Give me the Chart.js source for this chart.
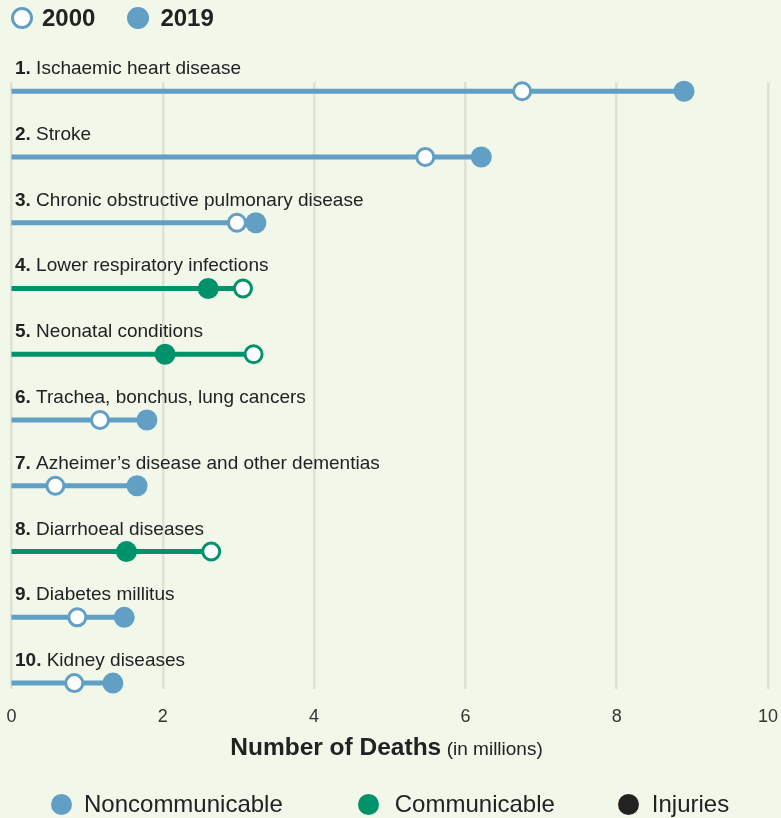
<!DOCTYPE html>
<html>
<head>
<meta charset="utf-8">
<script src="https://cdn.jsdelivr.net/npm/chart.js@4"></script>
<style>
  html, body { margin: 0; padding: 0; background: #f1f7e9; }
  body { font-family: "Liberation Sans", Arial, sans-serif; color: #222; }
  #wrap { position: relative; width: 781px; height: 818px; overflow: hidden; }
  #chart { position: absolute; left: 0; top: 0; }
  .leg { position: absolute; display: flex; align-items: center; white-space: nowrap; }
  .dot { display: inline-block; box-sizing: border-box; border-radius: 50%; }
  #topLegend { left: 11px; top: 4px; height: 28px; font-weight: bold; font-size: 24px; }
  #axisTitle { position: absolute; left: -4px; width: 781px; top: 733px; text-align: center; white-space: nowrap; }
  #axisTitle b { font-size: 24.5px; }
  #axisTitle span { font-size: 19px; margin-left: 1px; }
  #bottomLegend { left: 51px; top: 790px; height: 28px; font-size: 24px; }
</style>
</head>
<body>
<div id="wrap">
  <canvas id="chart" width="781" height="818"></canvas>
  <div id="topLegend" class="leg">
    <span class="dot" style="width:22px;height:22px;border:3px solid #619fc4;background:#fff;"></span>
    <span style="margin-left:9px;">2000</span>
    <span class="dot" style="width:22px;height:22px;background:#619fc4;margin-left:32px;"></span>
    <span style="margin-left:11px;">2019</span>
  </div>
  <div id="axisTitle"><b>Number of Deaths</b> <span>(in millions)</span></div>
  <div id="bottomLegend" class="leg">
    <span class="dot" style="width:21px;height:21px;background:#619fc4;"></span>
    <span style="margin-left:12px;">Noncommunicable</span>
    <span class="dot" style="width:21px;height:21px;background:#00936b;margin-left:75px;"></span>
    <span style="margin-left:16px;">Communicable</span>
    <span class="dot" style="width:21px;height:21px;background:#222;margin-left:63px;"></span>
    <span style="margin-left:13px;">Injuries</span>
  </div>
</div>
<script>
(function () {
  "use strict";

  // causes of death, top ten, in millions
  const causes = [
    "Ischaemic heart disease",
    "Stroke",
    "Chronic obstructive pulmonary disease",
    "Lower respiratory infections",
    "Neonatal conditions",
    "Trachea, bonchus, lung cancers",
    "Azheimer\u2019s disease and other dementias",
    "Diarrhoeal diseases",
    "Diabetes millitus",
    "Kidney diseases"
  ];
  const groups = ["non", "non", "non", "com", "com", "non", "non", "com", "non", "non"];
  const deaths2000 = [6.75, 5.47, 2.98, 3.06, 3.20, 1.17, 0.58, 2.64, 0.87, 0.83];
  const deaths2019 = [8.89, 6.21, 3.23, 2.60, 2.03, 1.79, 1.66, 1.52, 1.49, 1.34];
  const xTicks = [0, 2, 4, 6, 8, 10];

  const groupColor = { non: "#619fc4", com: "#00936b", inj: "#222222" };
  const FONT = '"Liberation Sans", Arial, sans-serif';

  const lineSets = causes.map((c, i) => ({
    type: "line",
    label: c,
    data: [{ x: 0, y: i }, { x: Math.max(deaths2000[i], deaths2019[i]), y: i }],
    borderColor: groupColor[groups[i]],
    borderWidth: 5,
    borderCapStyle: "butt",
    pointRadius: 0,
    clip: false,
    order: 3
  }));

  const set2000 = {
    label: "2000",
    data: deaths2000.map((v, i) => ({ x: v, y: i })),
    pointRadius: 8.5,
    pointBorderWidth: 3,
    pointBackgroundColor: "#ffffff",
    pointBorderColor: groups.map(g => groupColor[g]),
    clip: false,
    order: 2
  };

  const set2019 = {
    label: "2019",
    data: deaths2019.map((v, i) => ({ x: v, y: i })),
    pointRadius: 10.5,
    pointBorderWidth: 0,
    pointBackgroundColor: groups.map(g => groupColor[g]),
    pointBorderColor: groups.map(g => groupColor[g]),
    clip: false,
    order: 1
  };

  const rowLabels = {
    id: "rowLabels",
    afterDatasetsDraw(chart) {
      const ctx = chart.ctx;
      const ys = chart.scales.y;
      ctx.save();
      ctx.fillStyle = "#222";
      ctx.textBaseline = "alphabetic";
      causes.forEach((name, i) => {
        const y = ys.getPixelForValue(i) - 17;
        ctx.font = "bold 19px " + FONT;
        const num = (i + 1) + ". ";
        ctx.fillText(num, 15, y);
        const w = ctx.measureText(num).width;
        ctx.font = "19px " + FONT;
        ctx.fillText(name, 15 + w, y);
      });
      ctx.restore();
    }
  };

  new Chart(document.getElementById("chart"), {
    type: "scatter",
    data: { datasets: [set2019, set2000].concat(lineSets) },
    options: {
      responsive: false,
      animation: false,
      events: [],
      layout: { padding: { left: 7, right: 13, top: 82, bottom: 89 } },
      plugins: { legend: { display: false }, tooltip: { enabled: false } },
      scales: {
        x: {
          type: "linear",
          min: 0,
          max: 10,
          afterBuildTicks: s => { s.ticks = xTicks.map(v => ({ value: v })); },
          afterFit: s => { s.height = 40; s.paddingLeft = 0; s.paddingRight = 0; },
          ticks: { color: "#333", font: { family: FONT, size: 18 }, padding: 17 },
          grid: { color: "#dce3d4", lineWidth: 2.5, drawTicks: false },
          border: { display: false }
        },
        y: {
          type: "linear",
          display: false,
          reverse: true,
          min: -0.14,
          max: 9.09
        }
      }
    },
    plugins: [rowLabels]
  });
})();
</script>
</body>
</html>
